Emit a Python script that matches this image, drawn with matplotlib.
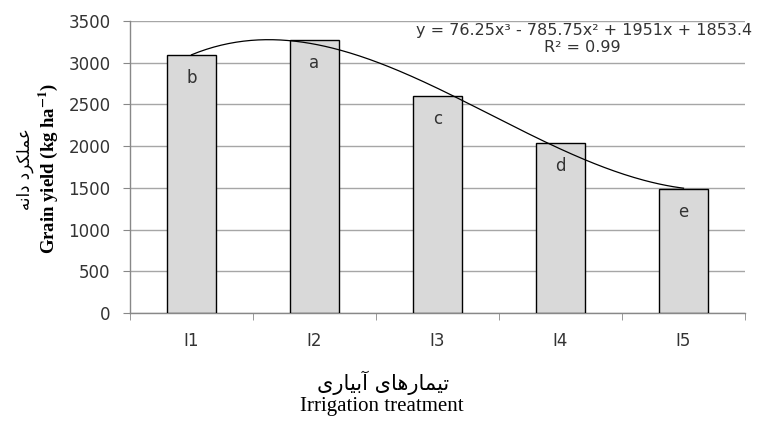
import numpy as np
import matplotlib
matplotlib.use("Agg")
import matplotlib.pyplot as plt

# data
treatments = ["I1", "I2", "I3", "I4", "I5"]
grain_yield = [3090, 3273, 2600, 2035, 1483]
letters = ["b", "a", "c", "d", "e"]
# cubic trendline shown on the chart
trend_coef = [76.25, -785.75, 1951, 1853.4]
yticks = [0, 500, 1000, 1500, 2000, 2500, 3000, 3500]

# persian labels in presentation forms (visual order) since matplotlib does no shaping
fa_ylabel = "\uFEEA\uFEE7\uFE8D\uFEA9 \uFEA9\uFEAE\uFB91\uFEE0\uFEE4\uFECB"
fa_xlabel = "\uFBFC\uFEAD\uFE8E\uFBFF\uFE91\uFE81 \uFBFC\uFE8E\uFEEB\uFEAD\uFE8E\uFEE4\uFBFF\uFE97"

fig = plt.figure(figsize=(7.61, 4.21), dpi=100)
ax = fig.add_axes([130 / 761, 1 - 313 / 421, 615 / 761, 292 / 421])

x = np.arange(1, len(treatments) + 1)
ax.bar(x, grain_yield, width=0.4, color="#d9d9d9", edgecolor="black", linewidth=1, zorder=3)

for xi, yi, lab in zip(x, grain_yield, letters):
    ax.annotate(lab, (xi, yi), xytext=(0, -16.5), textcoords="offset points",
                ha="center", va="center", fontsize=12, color="#333333", zorder=5)

xs = np.linspace(1, 5, 200)
ax.plot(xs, np.polyval(trend_coef, xs), color="black", linewidth=0.9, zorder=4)

ax.set_xlim(0.5, 5.5)
ax.set_ylim(0, 3500)
ax.set_yticks(yticks)
ax.set_xticks(x)
ax.set_xticklabels(treatments)
ax.set_xticks(np.arange(0.5, 6, 1), minor=True)
ax.tick_params(axis="x", which="major", length=0, pad=14, labelsize=12, labelcolor="#333333")
ax.tick_params(axis="x", which="minor", length=5, color="#888888", direction="out")
ax.tick_params(axis="y", length=5, color="#888888", pad=9, labelsize=12, labelcolor="#333333")

ax.grid(axis="y", color="#a6a6a6", linewidth=1, zorder=0)
for s in ["top", "right"]:
    ax.spines[s].set_visible(False)
for s in ["left", "bottom"]:
    ax.spines[s].set_color("#888888")
    ax.spines[s].set_linewidth(1)

# trendline equation
fig.text(584 / 761, 1 - 30 / 421, "y = 76.25x³ - 785.75x² + 1951x + 1853.4",
         ha="center", va="center", fontsize=11.5, color="#333333")
fig.text(582 / 761, 1 - 47 / 421, "R² = 0.99", ha="center", va="center",
         fontsize=11.5, color="#333333")

# axis titles
fig.text(25 / 761, 1 - 169 / 421, fa_ylabel, rotation=90, ha="center", va="center",
         fontsize=12, family="DejaVu Sans")
fig.text(48 / 761, 1 - 168 / 421, r"Grain yield (kg ha$^{\mathbf{-1}}$)", rotation=90,
         ha="center", va="center", fontsize=13.5, family="Liberation Serif", weight="bold",
         math_fontfamily="stix")
fig.text(383 / 761, 1 - 383 / 421, fa_xlabel, ha="center", va="center",
         fontsize=15, family="DejaVu Sans")
fig.text(382 / 761, 1 - 407 / 421, "Irrigation treatment", ha="center", va="center",
         fontsize=15, family="Liberation Serif")

fig.savefig("out.png", dpi=100)
